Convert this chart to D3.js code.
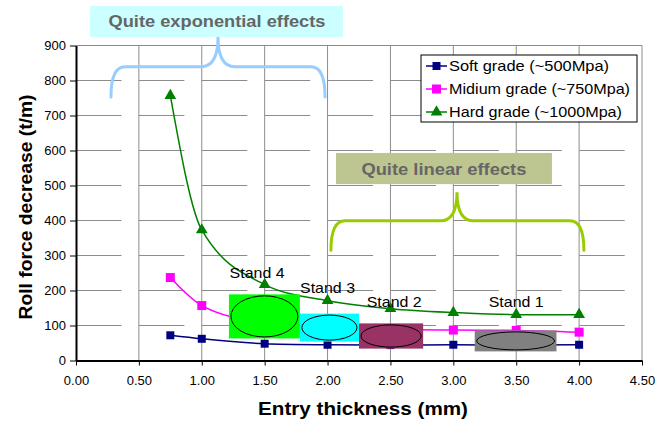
<!DOCTYPE html>
<html>
<head>
<meta charset="utf-8">
<script src="https://cdn.jsdelivr.net/npm/d3@7"></script>
<style>
  body { margin: 0; background: #fff; }
  svg { display: block; font-family: "Liberation Sans", Arial, sans-serif; }
</style>
</head>
<body>
<div id="chart"></div>
<script>
let w = 667,
    h = 421;

// data
let thickness = [0.75, 1.0, 1.5, 2.0, 2.5, 3.0, 3.5, 4.0];
let softGrade = [72, 62, 48, 45, 44, 45, 44, 45];
let mediumGrade = [237, 157, 108, 95, 89, 87, 86, 81];
let hardGrade = [757, 373, 217, 171, 148, 137, 131, 131];

let seriesNames = ["Soft grade (~500Mpa)", "Midium grade (~750Mpa)", "Hard grade (~1000Mpa)"];
let xTicks = [0, 0.5, 1, 1.5, 2, 2.5, 3, 3.5, 4, 4.5];
let yTicks = [0, 100, 200, 300, 400, 500, 600, 700, 800, 900];

let standNames = ["Stand 4", "Stand 3", "Stand 2", "Stand 1"];

let seriesColors = ["#000080", "#ff00ff", "#008000"];
let standColors = ["#00ff00", "#00ffff", "#993366", "#808080"];

// annotation placement, in data units: [x0, x1, yTop, yBottom]
let standBoxes = [[1.216, 1.78, 189, 63], [1.78, 2.25, 134, 54], [2.25, 2.76, 106, 34], [3.17, 3.82, 86, 26]];
let standLabels = [[1.44, 237], [2.0, 194], [2.53, 153], [3.5, 153]];

let x = d3.scaleLinear().domain([0, 4.5]).range([76, 642]);
let y = d3.scaleLinear().domain([0, 900]).range([360.5, 45.5]);

let svg = d3.select("#chart")
            .append("svg")
            .attr("width", w)
            .attr("height", h);

// the original text is a little wider than Liberation Sans, stretch it
function stretch(sel, len) {
  sel.attr("textLength", len).attr("lengthAdjust", "spacingAndGlyphs");
}

// grid
svg.append("g")
   .selectAll("line")
   .data(yTicks.slice(1, -1))
   .enter()
   .append("line")
   .attr("x1", x(0)).attr("x2", x(4.5))
   .attr("y1", d => y(d)).attr("y2", d => y(d))
   .attr("stroke", "#8c8c8c")
   .attr("stroke-dasharray", "45.5,17.4");

svg.append("g")
   .selectAll("line")
   .data(xTicks.slice(1))
   .enter()
   .append("line")
   .attr("x1", d => x(d)).attr("x2", d => x(d))
   .attr("y1", y(0)).attr("y2", y(900))
   .attr("stroke", "#8c8c8c");

svg.append("line")
   .attr("x1", x(0)).attr("x2", x(4.5))
   .attr("y1", y(900)).attr("y2", y(900))
   .attr("stroke", "#8c8c8c");

// axes
let xAxis = svg.append("g")
   .attr("transform", "translate(0," + y(0) + ")")
   .call(d3.axisBottom(x).tickValues(xTicks).tickFormat(d3.format(".2f")).tickSizeInner(5).tickSizeOuter(0).tickPadding(10));

let yAxis = svg.append("g")
   .attr("transform", "translate(" + x(0) + ",0)")
   .call(d3.axisLeft(y).tickValues(yTicks).tickSizeInner(6).tickSizeOuter(0).tickPadding(4));

[xAxis, yAxis].forEach(a => {
  a.select(".domain").attr("stroke", "#000").attr("stroke-width", 2);
  a.selectAll(".tick line").attr("stroke", "#000");
  a.selectAll("text").attr("font-size", 13).attr("fill", "#000")
   .attr("font-family", "'Liberation Sans', Arial, sans-serif");
});

svg.append("text")
   .attr("x", 363)
   .attr("y", 415)
   .attr("text-anchor", "middle")
   .attr("font-size", 18)
   .attr("font-weight", "bold")
   .text("Entry thickness (mm)")
   .call(stretch, 210);

svg.append("text")
   .attr("transform", "translate(32,207) rotate(-90)")
   .attr("text-anchor", "middle")
   .attr("font-size", 18)
   .attr("font-weight", "bold")
   .text("Roll force decrease (t/m)")
   .call(stretch, 225);

// series
let series = [softGrade, mediumGrade, hardGrade];
let line = d3.line()
             .x((d, i) => x(thickness[i]))
             .y(d => y(d))
             .curve(d3.curveMonotoneX);

let markerSize = [64, 81, 60];
let markerShape = [d3.symbolSquare, d3.symbolSquare, d3.symbolTriangle];

series.forEach((s, k) => {
  svg.append("path")
     .datum(s)
     .attr("d", line)
     .attr("fill", "none")
     .attr("stroke", seriesColors[k])
     .attr("stroke-width", 1.5);

  svg.append("g")
     .selectAll("path")
     .data(s)
     .enter()
     .append("path")
     .attr("transform", (d, i) => "translate(" + x(thickness[i]) + "," + y(d) + ")")
     .attr("d", d3.symbol().type(markerShape[k]).size(markerSize[k]))
     .attr("fill", seriesColors[k]);
});

// stand pictures
let stands = svg.append("g")
   .selectAll("g")
   .data(standBoxes)
   .enter()
   .append("g");

stands.append("rect")
   .attr("x", d => x(d[0]))
   .attr("y", d => y(d[2]))
   .attr("width", d => x(d[1]) - x(d[0]))
   .attr("height", d => y(d[3]) - y(d[2]))
   .attr("fill", (d, i) => standColors[i]);

stands.append("ellipse")
   .attr("cx", d => (x(d[0]) + x(d[1])) / 2)
   .attr("cy", d => (y(d[2]) + y(d[3])) / 2)
   .attr("rx", d => (x(d[1]) - x(d[0])) / 2 - 2)
   .attr("ry", d => (y(d[3]) - y(d[2])) / 2 - 1.5)
   .attr("fill", (d, i) => standColors[i])
   .attr("stroke", "#000")
   .attr("stroke-width", 1);

svg.append("g")
   .selectAll("text")
   .data(standLabels)
   .enter()
   .append("text")
   .attr("x", d => x(d[0]))
   .attr("y", d => y(d[1]))
   .attr("text-anchor", "middle")
   .attr("font-size", 15)
   .text((d, i) => standNames[i])
   .call(stretch, 55);

// callouts
function brace(x1, x2, xm, yEnd, yBar, yPeak) {
  let r = 14, c = 17;
  return "M" + x1 + "," + yEnd +
         "Q" + x1 + "," + yBar + " " + (x1 + r) + "," + yBar +
         "L" + (xm - c) + "," + yBar +
         "Q" + xm + "," + yBar + " " + xm + "," + yPeak +
         "Q" + xm + "," + yBar + " " + (xm + c) + "," + yBar +
         "L" + (x2 - r) + "," + yBar +
         "Q" + x2 + "," + yBar + " " + x2 + "," + yEnd;
}

let callouts = [
  {text: "Quite exponential effects", len: 217, box: [0.111, 2.122, 1013, 924], tx: 1.121, ty: 953, fill: "#ccffff",
   brace: [0.278, 1.98, 1.129, 753, 839, 924], stroke: "#99ccff"},
  {text: "Quite linear effects", len: 165, box: [2.067, 3.784, 593, 504], tx: 2.925, ty: 530, fill: "#bdc590",
   brace: [2.027, 4.038, 3.029, 315, 399, 481], stroke: "#99cc00"}
];

callouts.forEach(c => {
  svg.append("rect")
     .attr("x", x(c.box[0]))
     .attr("y", y(c.box[2]))
     .attr("width", x(c.box[1]) - x(c.box[0]))
     .attr("height", y(c.box[3]) - y(c.box[2]))
     .attr("fill", c.fill);

  svg.append("text")
     .attr("x", x(c.tx))
     .attr("y", y(c.ty))
     .attr("text-anchor", "middle")
     .attr("font-size", 16)
     .attr("font-weight", "bold")
     .attr("fill", "#666666")
     .text(c.text)
     .call(stretch, c.len);

  let b = c.brace;
  svg.append("path")
     .attr("d", brace(x(b[0]), x(b[1]), x(b[2]), y(b[3]), y(b[4]), y(b[5])))
     .attr("fill", "none")
     .attr("stroke", c.stroke)
     .attr("stroke-width", 3)
     .attr("stroke-linecap", "round");
});

// legend
let legendLen = [160, 181, 173];

let legend = svg.append("g")
   .attr("transform", "translate(421,55)");

legend.append("rect")
   .attr("width", 216)
   .attr("height", 67)
   .attr("fill", "#fff")
   .attr("stroke", "#000");

let rows = legend.selectAll(".row")
   .data(seriesNames)
   .enter()
   .append("g")
   .attr("class", "row")
   .attr("transform", (d, i) => "translate(0," + (11 + i * 23) + ")");

rows.append("line")
   .attr("x1", 5).attr("x2", 26)
   .attr("stroke", (d, i) => seriesColors[i])
   .attr("stroke-width", 1.5);

rows.append("path")
   .attr("transform", "translate(15.5,0)")
   .attr("d", (d, i) => d3.symbol().type(markerShape[i]).size(markerSize[i])())
   .attr("fill", (d, i) => seriesColors[i]);

rows.append("text")
   .attr("x", 28)
   .attr("dy", "0.35em")
   .attr("font-size", 15)
   .attr("textLength", (d, i) => legendLen[i])
   .attr("lengthAdjust", "spacingAndGlyphs")
   .text(d => d);
</script>
</body>
</html>
